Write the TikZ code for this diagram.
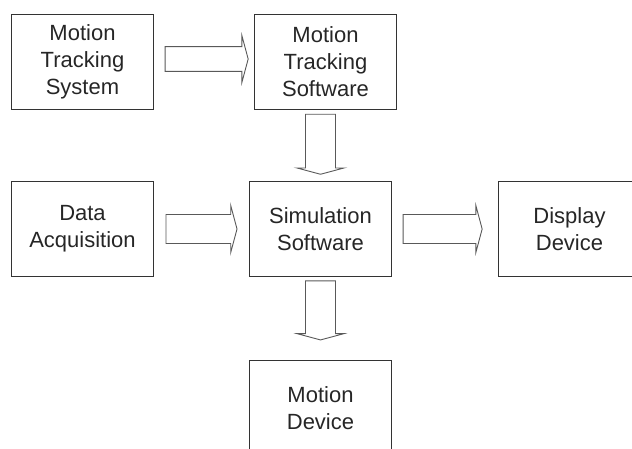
\documentclass[tikz,border=0pt]{standalone}
\usepackage{fontspec}
\setmainfont{Liberation Sans}
\usetikzlibrary{matrix,shapes.arrows}

\tikzset{
	block/.style={draw=black!80, line width=1pt, minimum width=142pt, minimum height=95pt, text width=130pt, align=center, anchor=center, text=black!85, font=\fontsize{22}{27}\selectfont},
	fat/.style={single arrow, draw=black!65, line width=0.9pt, fill=white, inner xsep=0pt, minimum width=47pt, single arrow tip angle=150, sloped, allow upside down}
}

\begin{document}
\begin{tikzpicture}
	\useasboundingbox (0,0) rectangle (632pt,-448pt);
	\clip (0,0) rectangle (632pt,-448pt);
	\matrix (m) [matrix of nodes, nodes={block}, row sep=71pt, column sep=95pt, inner sep=0pt, outer sep=0pt, anchor=north west] at (11pt,-14pt)
	{
	Motion\par Tracking\par System & |[xshift=5pt]| Motion\par Tracking\par Software &[6pt] \\
	Data\par Acquisition & Simulation\par Software & Display\par Device \\[12pt]
	& Motion\par Device & \\};
	\path[every edge/.style={draw=none}]
	(m-1-1) edge node[fat, pos=.51, yshift=3pt, inner ysep=7.5pt, minimum height=83pt] {} (m-1-2)
	(m-2-2.north |- m-1-2.south) edge node[fat, pos=.455, inner ysep=12pt, minimum height=60pt] {} (m-2-2.north)
	(m-2-1) edge node[fat, pos=.48, inner ysep=11pt, minimum height=71pt] {} (m-2-2)
	(m-2-2) edge node[fat, pos=.46, inner ysep=11pt, minimum height=79pt] {} (m-2-3)
	(m-2-2) edge node[fat, pos=.38, inner ysep=12pt, minimum height=59pt] {} (m-3-2);
\end{tikzpicture}
\end{document}
